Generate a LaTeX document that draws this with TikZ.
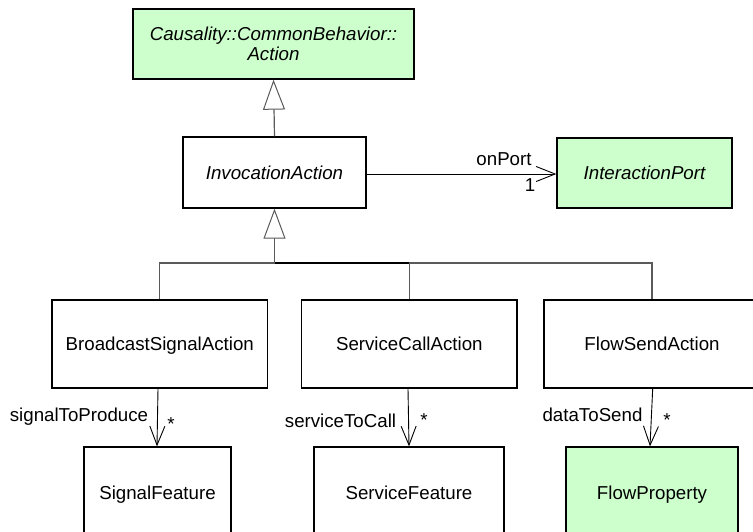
\documentclass[tikz,border=0pt]{standalone}
\usepackage{fontspec}
\setmainfont{Liberation Sans}
\usetikzlibrary{arrows.meta}
\definecolor{cgreen}{HTML}{CCFFCC}
\definecolor{cgen}{HTML}{5A5A5A}
\newcommand\fsz{\fontsize{18.7}{20}\selectfont}
\tikzset{
  cls/.style={draw=black, line width=1.3pt, fill=white, inner sep=0pt,
    text height=13.4pt, text depth=0pt, font=\fsz, align=center},
  grn/.style={fill=cgreen},
  ital/.style={font=\fsz\itshape},
  genline/.style={draw=cgen, line width=1.2pt},
  genarrow/.style={genline, -{Triangle[open, length=30pt, width=22pt, line width=1pt, fill=white]}},
  assoc/.style={draw=black, line width=0.9pt, -{Straight Barb[length=19pt, width=15pt, line width=0.9pt]}},
  lbl/.style={font=\fsz, inner sep=0pt, anchor=base},
}
\begin{document}
\begin{tikzpicture}[x=1pt,y=-1pt]
\useasboundingbox (0,0) rectangle (753,531);
\clip (0,0) rectangle (753,531);
\fill[white] (0,0) rectangle (753,531);

% boxes
\node[cls, grn, ital, text height=, text depth=, minimum width=281pt, minimum height=70pt] (act) at (273.5,44)
  {Causality::CommonBehavior::\\Action};
\node[cls, ital, minimum width=183pt, minimum height=71pt] (inv) at (274.5,172.5) {InvocationAction};
\node[cls, grn, ital, minimum width=175pt, minimum height=70pt] (port) at (644.5,173) {InteractionPort};

\node[cls, minimum width=215.5pt, minimum height=88pt] (bsa) at (159.75,344) {BroadcastSignalAction};
\node[cls, minimum width=215.4pt, minimum height=88pt] (sca) at (409.3,344) {ServiceCallAction};
\node[cls, minimum width=216pt, minimum height=88pt] (fsa) at (652,344) {FlowSendAction};

\node[cls, minimum width=147pt, minimum height=92pt] (sf) at (157.5,493) {SignalFeature};
\node[cls, minimum width=190pt, minimum height=92pt] (svf) at (409,493) {ServiceFeature};
\node[cls, grn, minimum width=172pt, minimum height=92pt] (fp) at (652,493) {FlowProperty};

% generalizations
\draw[genarrow] (inv.north) -- (act.south);
\coordinate (j) at (inv.south |- 0,263);
\draw[genline] (bsa.north) |- (fsa.north |- j) -- (fsa.north);
\draw[genline] (sca.north) -- (sca.north |- j);
\draw[draw=black, line width=1.8pt] (j) -- (sca.north |- j);
\draw[genarrow] (j) -- (inv.south);

% associations
\draw[assoc] (inv.east |- 0,174) -- (port.west |- 0,174);
\node[lbl] (onport) at (504,165) {onPort};
\node[lbl] (one) at (530,191) {1};

\draw[assoc] ([xshift=-1.75pt]bsa.south) -- ([xshift=-0.5pt]sf.north);
\node[lbl] (sigl) at (79,421) {signalToProduce};
\node[lbl] (sigm) at (171,430) {*};

\draw[assoc] ([xshift=-1.3pt]sca.south) -- (svf.north);
\node[lbl] (svl) at (340.5,427) {serviceToCall};
\node[lbl] (svm) at (424,426) {*};

\draw[assoc] ([xshift=0.7pt]fsa.south) -- ([xshift=-2pt]fp.north);
\node[lbl] (dl) at (592.5,421) {dataToSend};
\node[lbl] (dm) at (667,426) {*};
\end{tikzpicture}
\end{document}
